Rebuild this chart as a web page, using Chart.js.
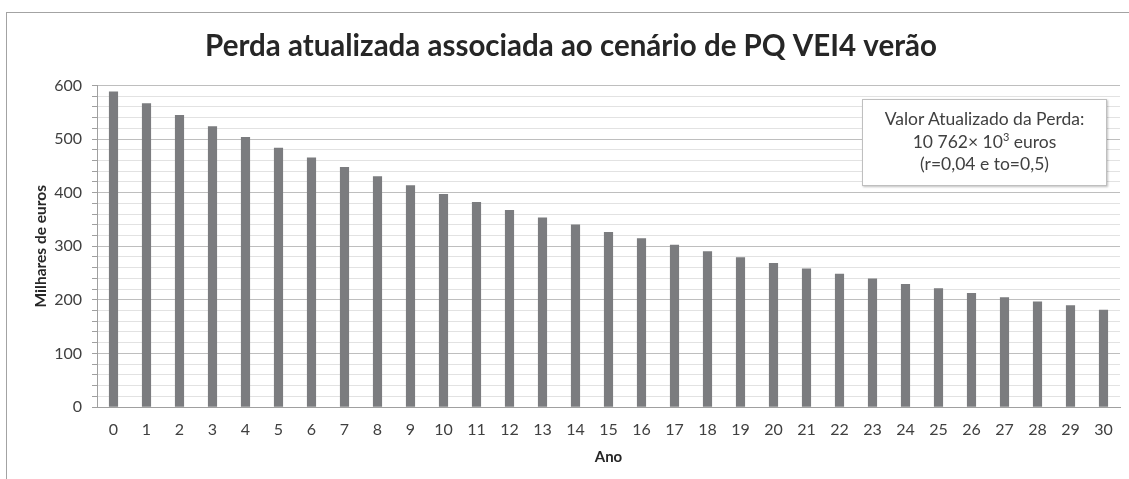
<!DOCTYPE html>
<html lang="pt">
<head>
<meta charset="utf-8">
<title>Perda atualizada associada ao cenário de PQ VEI4 verão</title>
<script src="https://cdn.jsdelivr.net/npm/chart.js@4.4.1/dist/chart.umd.min.js"></script>
<style>
  html, body { margin: 0; padding: 0; background: #ffffff; }
  #wrap { position: relative; width: 1129px; height: 479px; overflow: hidden; }
  #frame {
    position: absolute; left: 6px; top: 12px; width: 1200px; height: 600px;
    border-left: 1px solid #a3a3a3; border-top: 1px solid #a3a3a3;
    pointer-events: none;
  }
  #chart { position: absolute; left: 0; top: 0; }
  #note {
    position: absolute; left: 862px; top: 99px; width: 245px; height: 87px;
    box-sizing: border-box; background: #ffffff;
    border: 1px solid #bfbfbf; box-shadow: 1px 1px 2px rgba(0,0,0,0.25);
    font-family: Lato, "Open Sans", sans-serif; font-size: 17.5px; color: #404040;
    text-align: center; line-height: 22.5px; padding-top: 8px;
  }
  #note sup { font-size: 11px; line-height: 0; vertical-align: 7px; }
</style>
</head>
<body>
<div id="wrap">
  <canvas id="chart" width="1129" height="479"></canvas>
  <div id="frame"></div>
  <div id="note">Valor Atualizado da Perda:<br>10 762× 10<sup>3</sup> euros<br>(r=0,04 e to=0,5)</div>
</div>
<script>
// Ano (0 a 30)
const anos = ['0','1','2','3','4','5','6','7','8','9','10','11','12','13','14','15',
              '16','17','18','19','20','21','22','23','24','25','26','27','28','29','30'];

// Perda atualizada em milhares de euros
const perda = [588, 566, 544, 523, 503, 483, 465, 447, 430, 413, 397, 382, 367, 353, 340, 326,
               314, 302, 290, 279, 268, 258, 248, 239, 229, 221, 212, 204, 196, 189, 181];

// Eixo vertical: 0 a 600, linhas principais a cada 100 e secundárias a cada 20
const eixoMin = 0;
const eixoMax = 600;
const passoPrincipal = 100;
const passoSecundario = 20;

const titulo = 'Perda atualizada associada ao cenário de PQ VEI4 verão';
const tituloY = 'Milhares de euros';
const tituloX = 'Ano';

const fonte = 'Lato, "Open Sans", sans-serif';

new Chart(document.getElementById('chart'), {
  type: 'bar',
  data: {
    labels: anos,
    datasets: [{
      data: perda,
      backgroundColor: '#7b7c7f',
      borderWidth: 0,
      barThickness: 8.5,
      categoryPercentage: 1,
      barPercentage: 1
    }]
  },
  options: {
    responsive: false,
    animation: false,
    layout: { padding: { left: 22, right: 9, top: 0, bottom: 0 } },
    plugins: {
      legend: { display: false },
      tooltip: { enabled: false },
      title: {
        display: true,
        text: titulo,
        color: '#262626',
        font: { family: fonte, size: 29.5, weight: 'bold', lineHeight: 1.2 },
        padding: { top: 29, bottom: 21 }
      }
    },
    scales: {
      x: {
        grid: { display: false, drawTicks: false },
        border: { display: true, color: '#a0a0a0', width: 1 },
        ticks: {
          color: '#404040',
          font: { family: fonte, size: 16 },
          padding: 13,
          maxRotation: 0,
          autoSkip: false
        },
        title: {
          display: true,
          text: tituloX,
          color: '#262626',
          font: { family: fonte, size: 15, weight: 'bold', lineHeight: 1.2 },
          padding: { top: 0, bottom: 13 }
        },
        afterFit(scale) { scale.height = 72; }
      },
      y: {
        min: eixoMin,
        max: eixoMax,
        border: { display: true, color: '#a0a0a0', width: 1 },
        grid: {
          color: ctx => (ctx.tick && ctx.tick.value % passoPrincipal === 0) ? '#bebebe' : '#e2e2e2',
          lineWidth: 1,
          drawTicks: true,
          tickLength: 5,
          tickColor: '#a0a0a0'
        },
        ticks: {
          stepSize: passoSecundario,
          autoSkip: false,
          color: '#404040',
          font: { family: fonte, size: 16 },
          padding: 10,
          callback: v => (v % passoPrincipal === 0 ? String(v) : '')
        },
        title: {
          display: true,
          text: tituloY,
          color: '#262626',
          font: { family: fonte, size: 15.5, weight: 'bold', lineHeight: 1.2 },
          padding: { top: 10, bottom: 0 }
        },
        afterFit(scale) { scale.width = 75; }
      }
    }
  }
});
</script>
</body>
</html>
